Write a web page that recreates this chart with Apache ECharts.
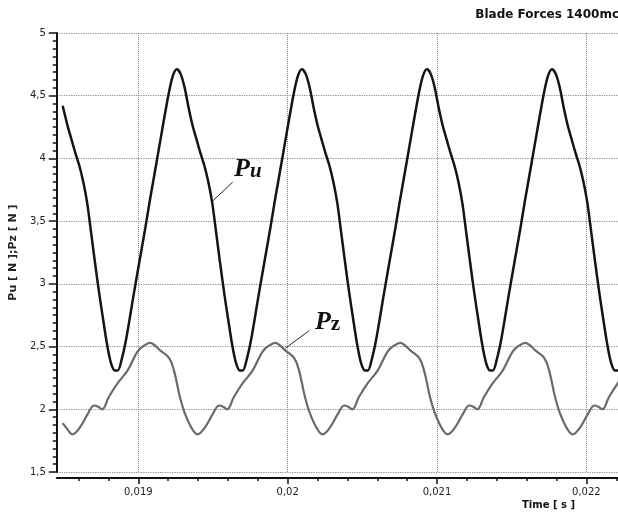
<!DOCTYPE html>
<html>
<head>
<meta charset="utf-8">
<title>Blade Forces</title>
<script src="https://cdn.jsdelivr.net/npm/echarts@6/dist/echarts.min.js"></script>
<style>
  html, body { margin: 0; padding: 0; background: #fff; }
  #chart { width: 618px; height: 513px; }
</style>
</head>
<body>
<div id="chart"></div>
<script>
// time axis span (s) and labelled ticks
var xMin = 0.0184544
var xMax = 0.0222116
var xTickValues = [0.019, 0.020, 0.021, 0.022]

// Pu [N]
var puTime = [
  0.0184937, 0.0185267, 0.0185530, 0.0185794, 0.0186058, 0.0186321, 0.0186585, 0.0186849, 0.0187112, 0.0187376, 0.0187640, 0.0187904, 0.0188167, 0.0188431,
  0.0188629, 0.0188892, 0.0189156, 0.0189420, 0.0189684, 0.0189947, 0.0190211, 0.0190475, 0.0190738, 0.0191002, 0.0191266, 0.0191529, 0.0191793, 0.0192057, 0.0192320, 0.0192584,
  0.0192848, 0.0193111, 0.0193375, 0.0193639, 0.0193902, 0.0194166, 0.0194430, 0.0194693, 0.0194957, 0.0195221, 0.0195484, 0.0195748, 0.0196012, 0.0196276, 0.0196539, 0.0196803,
  0.0197001, 0.0197264, 0.0197528, 0.0197792, 0.0198056, 0.0198319, 0.0198583, 0.0198847, 0.0199110, 0.0199374, 0.0199638, 0.0199901, 0.0200165, 0.0200429, 0.0200692, 0.0200956,
  0.0201220, 0.0201483, 0.0201747, 0.0202011, 0.0202274, 0.0202538, 0.0202802, 0.0203065, 0.0203329, 0.0203593, 0.0203856, 0.0204120, 0.0204384, 0.0204648, 0.0204911, 0.0205175,
  0.0205373, 0.0205636, 0.0205900, 0.0206164, 0.0206428, 0.0206691, 0.0206955, 0.0207219, 0.0207482, 0.0207746, 0.0208010, 0.0208273, 0.0208537, 0.0208801, 0.0209064, 0.0209328,
  0.0209592, 0.0209855, 0.0210119, 0.0210383, 0.0210646, 0.0210910, 0.0211174, 0.0211437, 0.0211701, 0.0211965, 0.0212228, 0.0212492, 0.0212756, 0.0213020, 0.0213283, 0.0213547,
  0.0213745, 0.0214008, 0.0214272, 0.0214536, 0.0214800, 0.0215063, 0.0215327, 0.0215591, 0.0215854, 0.0216118, 0.0216382, 0.0216645, 0.0216909, 0.0217173, 0.0217436, 0.0217700,
  0.0217964, 0.0218227, 0.0218491, 0.0218755, 0.0219018, 0.0219282, 0.0219546, 0.0219809, 0.0220073, 0.0220337, 0.0220600, 0.0220864, 0.0221128, 0.0221392, 0.0221655, 0.0221919,
  0.0222117, 0.0222370, 0.0222644
]
var puForce = [
  4.42, 4.26, 4.15, 4.04, 3.94, 3.81, 3.64, 3.40, 3.16, 2.93, 2.72, 2.52, 2.37, 2.31,
  2.31, 2.40, 2.54, 2.72, 2.91, 3.09, 3.27, 3.45, 3.64, 3.82, 4.00, 4.18, 4.36, 4.53, 4.66, 4.71,
  4.67, 4.56, 4.40, 4.26, 4.15, 4.04, 3.94, 3.81, 3.64, 3.40, 3.16, 2.93, 2.72, 2.52, 2.37, 2.31,
  2.31, 2.40, 2.54, 2.72, 2.91, 3.09, 3.27, 3.45, 3.64, 3.82, 4.00, 4.18, 4.36, 4.53, 4.66, 4.71,
  4.67, 4.56, 4.40, 4.26, 4.15, 4.04, 3.94, 3.81, 3.64, 3.40, 3.16, 2.93, 2.72, 2.52, 2.37, 2.31,
  2.31, 2.40, 2.54, 2.72, 2.91, 3.09, 3.27, 3.45, 3.64, 3.82, 4.00, 4.18, 4.36, 4.53, 4.66, 4.71,
  4.67, 4.56, 4.40, 4.26, 4.15, 4.04, 3.94, 3.81, 3.64, 3.40, 3.16, 2.93, 2.72, 2.52, 2.37, 2.31,
  2.31, 2.40, 2.54, 2.72, 2.91, 3.09, 3.27, 3.45, 3.64, 3.82, 4.00, 4.18, 4.36, 4.53, 4.66, 4.71,
  4.67, 4.56, 4.40, 4.26, 4.15, 4.04, 3.94, 3.81, 3.64, 3.40, 3.16, 2.93, 2.72, 2.52, 2.37, 2.31,
  2.31, 2.40, 2.54
]

// Pz [N]
var pzTime = [
  0.0184937, 0.0185201, 0.0185596, 0.0186058, 0.0186651, 0.0187047, 0.0187310, 0.0187574, 0.0188035, 0.0188629,
  0.0189288, 0.0189947, 0.0190409, 0.0190804, 0.0191200, 0.0191463, 0.0192057, 0.0192386, 0.0192782, 0.0193111,
  0.0193573, 0.0193968, 0.0194430, 0.0195023, 0.0195419, 0.0195682, 0.0195946, 0.0196407, 0.0197001,
  0.0197660, 0.0198319, 0.0198781, 0.0199176, 0.0199572, 0.0199835, 0.0200429, 0.0200758, 0.0201154, 0.0201483,
  0.0201945, 0.0202340, 0.0202802, 0.0203395, 0.0203791, 0.0204054, 0.0204318, 0.0204779, 0.0205373,
  0.0206032, 0.0206691, 0.0207153, 0.0207548, 0.0207944, 0.0208207, 0.0208801, 0.0209130, 0.0209526, 0.0209855,
  0.0210317, 0.0210712, 0.0211174, 0.0211767, 0.0212163, 0.0212426, 0.0212690, 0.0213151, 0.0213745,
  0.0214404, 0.0215063, 0.0215525, 0.0215920, 0.0216316, 0.0216579, 0.0217173, 0.0217502, 0.0217898, 0.0218227,
  0.0218689, 0.0219084, 0.0219546, 0.0220139, 0.0220535, 0.0220798, 0.0221062, 0.0221523, 0.0222117,
  0.0222776
]
var pzForce = [
  1.89, 1.85, 1.80, 1.85, 1.97, 2.03, 2.02, 2.00, 2.10, 2.21,
  2.31, 2.46, 2.51, 2.53, 2.50, 2.47, 2.41, 2.31, 2.10, 1.97,
  1.85, 1.80, 1.85, 1.97, 2.03, 2.02, 2.00, 2.10, 2.21,
  2.31, 2.46, 2.51, 2.53, 2.50, 2.47, 2.41, 2.31, 2.10, 1.97,
  1.85, 1.80, 1.85, 1.97, 2.03, 2.02, 2.00, 2.10, 2.21,
  2.31, 2.46, 2.51, 2.53, 2.50, 2.47, 2.41, 2.31, 2.10, 1.97,
  1.85, 1.80, 1.85, 1.97, 2.03, 2.02, 2.00, 2.10, 2.21,
  2.31, 2.46, 2.51, 2.53, 2.50, 2.47, 2.41, 2.31, 2.10, 1.97,
  1.85, 1.80, 1.85, 1.97, 2.03, 2.02, 2.00, 2.10, 2.21,
  2.31
]

// curve labels: text anchor and leader line ends, in data coords
var puLabelAt = [0.0197330, 3.925]
var puLeader = [[0.019494, 3.656], [0.019632, 3.811]]
var pzLabelAt = [0.0202670, 2.704]
var pzLeader = [[0.019984, 2.486], [0.020144, 2.627]]

var font = 'DejaVu Sans'
var commaFmt = function(v) { return String(v).replace('.', ',') }

function pairs(xs, ys) {
  return xs.map(function(x, i) { return [x, ys[i]] })
}

function curveLabel(at, leader, rich, text) {
  return {
    markPoint: {
      silent: true,
      symbol: 'rect',
      symbolSize: 1,
      itemStyle: { color: 'rgba(0,0,0,0)' },
      label: { show: true, position: 'inside', formatter: text, rich: rich },
      data: [{ coord: at }]
    },
    markLine: {
      silent: true,
      symbol: ['none', 'none'],
      label: { show: false },
      lineStyle: { color: '#222', width: 1, type: 'solid' },
      data: [[{ coord: leader[0] }, { coord: leader[1] }]]
    }
  }
}

var chart = echarts.init(document.getElementById('chart'))

var puMarks = curveLabel(puLabelAt, puLeader, {
  p: { fontFamily: 'Liberation Serif', fontStyle: 'italic', fontWeight: 'bold', fontSize: 26, color: '#111', verticalAlign: 'bottom', lineHeight: 28 },
  s: { fontFamily: 'Liberation Serif', fontStyle: 'italic', fontWeight: 'bold', fontSize: 21, color: '#111', verticalAlign: 'bottom', lineHeight: 23 }
}, '{p|P}{s|u}')

var pzMarks = curveLabel(pzLabelAt, pzLeader, {
  p: { fontFamily: 'Liberation Serif', fontStyle: 'italic', fontWeight: 'bold', fontSize: 26, color: '#111', verticalAlign: 'bottom', lineHeight: 28 },
  s: { fontFamily: 'Liberation Serif', fontWeight: 'bold', fontSize: 21, color: '#111', verticalAlign: 'bottom', lineHeight: 23 }
}, '{p|P}{s|z}')

chart.setOption({
  animation: false,
  backgroundColor: '#fff',
  title: [
    {
      text: 'Blade Forces 1400mc',
      right: -1,
      top: 9,
      padding: 0,
      textStyle: { fontFamily: font, fontWeight: 'bold', fontSize: 12, color: '#111' }
    },
    {
      text: 'Time [ s ]',
      left: 522,
      top: 500,
      padding: 0,
      textStyle: { fontFamily: font, fontWeight: 'bold', fontSize: 10, color: '#111' }
    }
  ],
  grid: {
    left: 48,
    right: 0,
    top: 33,
    bottom: 41
  },
  xAxis: {
    type: 'value',
    min: xMin,
    max: xMax,
    offset: 6,
    axisLine: { show: true, onZero: false, lineStyle: { color: '#111', width: 2 } },
    axisTick: { show: true, length: 6, customValues: xTickValues, lineStyle: { color: '#111', width: 1.5 } },
    minorTick: { show: true, splitNumber: 5, length: 3, lineStyle: { color: '#111', width: 1.5 } },
    axisLabel: {
      customValues: xTickValues,
      formatter: commaFmt,
      fontFamily: font,
      fontSize: 10,
      color: '#222',
      margin: 9
    },
    splitLine: { show: true, lineStyle: { type: 'dotted', color: '#8c8c8c', width: 1 } }
  },
  yAxis: {
    type: 'value',
    min: 1.5,
    max: 5,
    interval: 0.5,
    name: 'Pu [ N ];Pz [ N ]',
    nameLocation: 'middle',
    nameGap: 33,
    nameTextStyle: { fontFamily: font, fontWeight: 'bold', fontSize: 11, color: '#222' },
    axisLine: { show: true, lineStyle: { color: '#111', width: 2 } },
    axisTick: { show: true, length: 8, lineStyle: { color: '#111', width: 1.5 } },
    minorTick: { show: true, splitNumber: 8, length: 4, lineStyle: { color: '#111', width: 1.5 } },
    axisLabel: {
      formatter: commaFmt,
      fontFamily: font,
      fontSize: 10,
      color: '#222',
      margin: 11
    },
    splitLine: { show: true, lineStyle: { type: 'dotted', color: '#8c8c8c', width: 1.2 } }
  },
  series: [
    {
      name: 'Pu',
      type: 'line',
      data: pairs(puTime, puForce),
      showSymbol: false,
      smooth: 0.3,
      lineStyle: { color: '#141414', width: 2.5 },
      markPoint: puMarks.markPoint,
      markLine: puMarks.markLine,
      z: 3
    },
    {
      name: 'Pz',
      type: 'line',
      data: pairs(pzTime, pzForce),
      showSymbol: false,
      smooth: 0.4,
      lineStyle: { color: '#6a6a6a', width: 2.2 },
      markPoint: pzMarks.markPoint,
      markLine: pzMarks.markLine,
      z: 2
    }
  ]
})
</script>
</body>
</html>
